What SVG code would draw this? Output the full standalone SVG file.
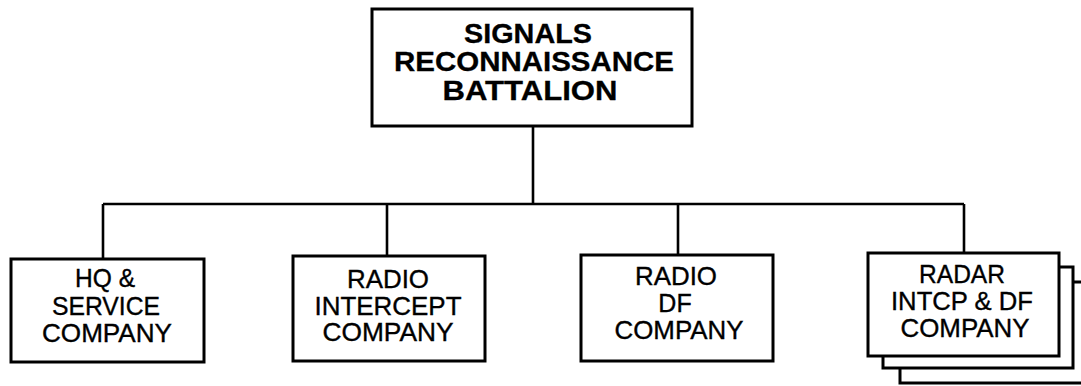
<svg xmlns="http://www.w3.org/2000/svg" width="1081" height="386" viewBox="0 0 1081 386">
<style>
.box{fill:#fff;stroke:#000;stroke-width:3}
.ln{fill:none;stroke:#000;stroke-width:2.6}
.t{font-family:"Liberation Sans",Arial,sans-serif;font-size:25px;text-anchor:middle;fill:#000;stroke:#000;stroke-width:0.35}
.b{font-weight:bold;font-size:27.5px;stroke-width:0.3}
</style>
<rect width="1081" height="386" fill="#fff"/>
<g id="connectors">
<path class="ln" d="M533 126V204M103 204H964M103 204V259M387 204V256M678 204V255M964 204V253"/>
</g>
<g id="battalion">
<rect class="box" x="372" y="9" width="320" height="117"/>
<text class="t b" x="528" y="43" textLength="128" lengthAdjust="spacingAndGlyphs">SIGNALS</text>
<text class="t b" x="534" y="71" textLength="280" lengthAdjust="spacingAndGlyphs">RECONNAISSANCE</text>
<text class="t b" x="530" y="100" textLength="175" lengthAdjust="spacingAndGlyphs">BATTALION</text>
</g>
<g id="hq">
<rect class="box" x="11" y="259" width="193" height="103"/>
<text class="t" x="105" y="287" textLength="60" lengthAdjust="spacingAndGlyphs">HQ &amp;</text>
<text class="t" x="106" y="315" textLength="108" lengthAdjust="spacingAndGlyphs">SERVICE</text>
<text class="t" x="107" y="342" textLength="130" lengthAdjust="spacingAndGlyphs">COMPANY</text>
</g>
<g id="radio-intercept">
<rect class="box" x="293" y="256" width="192" height="105"/>
<text class="t" x="388" y="288" textLength="82" lengthAdjust="spacingAndGlyphs">RADIO</text>
<text class="t" x="388" y="315" textLength="147" lengthAdjust="spacingAndGlyphs">INTERCEPT</text>
<text class="t" x="388" y="341" textLength="131" lengthAdjust="spacingAndGlyphs">COMPANY</text>
</g>
<g id="radio-df">
<rect class="box" x="581" y="255" width="192" height="106"/>
<text class="t" x="676" y="285" textLength="82" lengthAdjust="spacingAndGlyphs">RADIO</text>
<text class="t" x="675" y="312">DF</text>
<text class="t" x="679" y="339" textLength="129" lengthAdjust="spacingAndGlyphs">COMPANY</text>
</g>
<g id="radar">
<rect class="box" x="900" y="282" width="195" height="101"/>
<rect class="box" x="883" y="267" width="190" height="101"/>
<rect class="box" x="868" y="253" width="191" height="103"/>
<text class="t" x="962" y="283" textLength="86" lengthAdjust="spacingAndGlyphs">RADAR</text>
<text class="t" x="962" y="310" textLength="142" lengthAdjust="spacingAndGlyphs">INTCP &amp; DF</text>
<text class="t" x="965" y="337" textLength="129" lengthAdjust="spacingAndGlyphs">COMPANY</text>
</g>
</svg>
